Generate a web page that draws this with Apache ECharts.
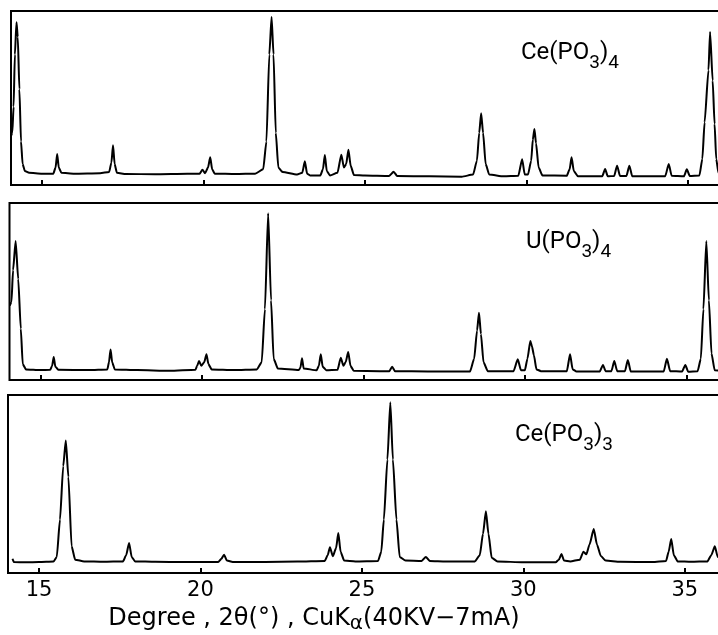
<!DOCTYPE html>
<html>
<head>
<meta charset="utf-8">
<script src="https://cdn.jsdelivr.net/npm/echarts@6/dist/echarts.min.js"></script>
<style>
  html, body { margin: 0; padding: 0; background: #fff; }
  #chart { width: 718px; height: 635px; }
</style>
</head>
<body>
<div id="chart"></div>
<script>
// x ticks (degrees 2-theta)
const xTicks = [15, 20, 25, 30, 35];
const xMin = 14.04;
const xMax = 36.2;

// Panel labels
const panelNames = ['Ce(PO3)4', 'U(PO3)4', 'Ce(PO3)3'];

// Ce(PO3)4 pattern: [2θ, relative intensity]
const ceP4Data = [
  [14.04, 28], [14.08, 30], [14.12, 45], [14.16, 75], [14.21, 93.5], [14.25, 85], [14.30, 55], [14.35, 25], [14.40, 12], [14.47, 8], [14.6, 7],
  [15.0, 6.5], [15.35, 6.5], [15.42, 10], [15.47, 17.8], [15.52, 10], [15.6, 7], [16.0, 6.5], [16.8, 6.8],
  [17.08, 7.5], [17.15, 13], [17.20, 22.8], [17.25, 12], [17.32, 7], [17.6, 6.3], [18.5, 6.2], [19.5, 6.5],
  [19.88, 6.5], [19.97, 8.8], [20.05, 6.8], [20.14, 10], [20.21, 15.9], [20.27, 9], [20.35, 6.5], [21.0, 6.3], [21.6, 6.5],
  [21.85, 9], [21.95, 25], [22.04, 75], [22.11, 96.6], [22.17, 75], [22.24, 30], [22.32, 10], [22.45, 7.5], [22.9, 6],
  [23.06, 7], [23.14, 13.6], [23.21, 6.5], [23.3, 5.5], [23.62, 5.5], [23.70, 9], [23.76, 17.2], [23.82, 8], [23.92, 5.5],
  [24.15, 7], [24.27, 17.4], [24.35, 10], [24.42, 12], [24.49, 20.3], [24.56, 11], [24.66, 5.8], [25.0, 5.5],
  [25.75, 5.2], [25.89, 7.6], [26.0, 5.2], [27.0, 5.0], [28.0, 4.8],
  [28.35, 6], [28.47, 14], [28.54, 30], [28.60, 41.2], [28.66, 30], [28.74, 12], [28.85, 6], [29.3, 5],
  [29.75, 5.3], [29.87, 14.8], [29.95, 6], [30.05, 6], [30.15, 14], [30.20, 26], [30.25, 32.2], [30.30, 24], [30.38, 10], [30.5, 5.5],
  [31.25, 5.3], [31.34, 9], [31.40, 15.9], [31.47, 8], [31.6, 5], [32.35, 5], [32.44, 9.2], [32.52, 5],
  [32.72, 5.2], [32.81, 11.1], [32.9, 5.2], [33.1, 5.2], [33.19, 11.1], [33.28, 5], [34.3, 5], [34.41, 12.1], [34.5, 5.3],
  [34.88, 5], [34.97, 9], [35.06, 5.2], [35.36, 5.5], [35.45, 15], [35.52, 36], [35.64, 66], [35.69, 88], [35.77, 60],
  [35.83, 35], [35.88, 15], [35.95, 7], [36.2, 6]
];

// U(PO3)4 pattern
const uP4Data = [
  [14.05, 42], [14.10, 44], [14.15, 62], [14.23, 78.5], [14.31, 57], [14.39, 29], [14.45, 9], [14.55, 6],
  [15.0, 5.6], [15.3, 5.8], [15.36, 8], [15.41, 13], [15.46, 7.5], [15.55, 5.8], [16.5, 5.6],
  [17.07, 6], [17.12, 10], [17.17, 17.3], [17.22, 10], [17.3, 6], [18.0, 5.6], [19.0, 5.2],
  [19.8, 5.8], [19.85, 8], [19.91, 10.7], [19.98, 8], [20.07, 10], [20.14, 14.5], [20.2, 9], [20.3, 6], [21.0, 5.6],
  [21.7, 6], [21.85, 10], [21.95, 40], [22.05, 94.2], [22.14, 45], [22.22, 12], [22.35, 6.5], [23.0, 5.6],
  [23.05, 7], [23.10, 12.3], [23.15, 6.5], [23.55, 5.5], [23.62, 8], [23.68, 14.5], [23.74, 7.5], [23.85, 5.5],
  [24.2, 5.8], [24.30, 12.6], [24.38, 8], [24.45, 10], [24.53, 15.8], [24.6, 8], [24.7, 5.2], [25.5, 5],
  [25.8, 5], [25.89, 7.5], [25.98, 5], [27.0, 4.8], [28.3, 4.8],
  [28.43, 12], [28.52, 28], [28.58, 38], [28.64, 26], [28.72, 10], [28.85, 5], [29.65, 5],
  [29.78, 11.7], [29.88, 5.5], [30.0, 5.5], [30.08, 12], [30.17, 22], [30.22, 19], [30.28, 14], [30.36, 6], [30.5, 5],
  [31.3, 5], [31.40, 14.5], [31.48, 6], [31.6, 4.8], [32.32, 4.8], [32.42, 8.5], [32.5, 5],
  [32.68, 5], [32.77, 10.7], [32.86, 5], [33.1, 5], [33.19, 11.3], [33.28, 4.8], [34.3, 4.8], [34.40, 12], [34.5, 5],
  [34.87, 4.8], [34.97, 8.5], [35.06, 4.6], [35.35, 5], [35.45, 12], [35.53, 40], [35.62, 78.5], [35.7, 45],
  [35.78, 15], [35.88, 5.5], [36.2, 5]
];

// Ce(PO3)3 pattern
const ceP3Data = [
  [14.18, 8], [14.22, 6.2], [14.6, 6.0], [15.0, 6.2], [15.45, 6.5], [15.55, 9], [15.65, 30], [15.75, 60], [15.83, 74.5],
  [15.91, 54], [16.01, 15], [16.12, 7.5], [16.4, 6.5], [17.0, 6.3], [17.6, 6.5], [17.7, 10], [17.79, 16.9], [17.87, 9],
  [17.98, 6.5], [18.6, 6.3], [19.5, 6.2], [20.55, 6.2], [20.65, 8], [20.73, 10.3], [20.82, 7], [21.0, 6.2], [22.0, 6.2],
  [23.0, 6.4], [23.85, 6.8], [23.94, 10], [24.01, 14.4], [24.1, 9.4], [24.2, 14], [24.27, 22.5], [24.34, 12], [24.45, 7],
  [24.8, 6.5], [25.5, 6.8], [25.6, 12], [25.68, 30], [25.79, 63.7], [25.88, 95.9], [25.96, 63.7], [26.07, 30], [26.17, 9],
  [26.35, 7], [26.85, 6.8], [26.98, 9], [27.1, 6.8], [27.6, 6.5], [28.5, 6.5], [28.65, 10], [28.75, 22], [28.84, 34.7],
  [28.92, 22], [29.02, 8.5], [29.2, 6.5], [30.0, 6], [31.0, 6], [31.1, 7.5], [31.18, 10.7], [31.26, 7], [31.45, 6.5],
  [31.75, 7.5], [31.86, 12], [31.95, 10.5], [32.05, 16], [32.18, 24.7], [32.28, 16], [32.4, 9.5], [32.55, 7], [33.0, 6.3],
  [34.0, 6.2], [34.42, 6.8], [34.5, 12], [34.58, 19.1], [34.66, 10], [34.78, 6.5], [35.2, 6.3], [35.7, 6.5], [35.82, 10],
  [35.93, 15], [36.02, 9], [36.2, 6.5]
];

const seriesData = [ceP4Data, uP4Data, ceP3Data];

const FONT = 'Roboto';
const TICKFONT = 'DejaVu Sans';
const pxPerDeg = 32.29;
const grids = [
  { left: 11, top: 11, height: 174 },
  { left: 9.5, top: 203, height: 177 },
  { left: 8, top: 395, height: 178 }
].map(g => {
  const width = (xMax - xMin) * pxPerDeg;
  return {
    left: g.left, top: g.top, height: g.height, width: width,
    containLabel: false, outerBoundsMode: 'none',
    show: true, borderColor: '#000', borderWidth: 2, backgroundColor: 'transparent'
  };
});

const xAxes = grids.map((g, i) => ({
  type: 'value', gridIndex: i, min: xMin, max: xMax,
  axisLine: { show: false },
  splitLine: { show: false },
  axisTick: { show: true, inside: true, length: 5, customValues: xTicks, lineStyle: { color: '#000', width: 2 } },
  axisLabel: i === 2 ? {
    show: true, customValues: xTicks, color: '#000', fontFamily: TICKFONT, fontSize: 21, margin: 7,
    formatter: v => String(v)
  } : { show: false }
}));

const yAxes = grids.map((g, i) => ({
  type: 'value', gridIndex: i, min: 0, max: 100, show: false
}));

const series = seriesData.map((d, i) => ({
  type: 'line', xAxisIndex: i, yAxisIndex: i, data: d,
  showSymbol: false, smooth: 0.2, smoothMonotone: 'x',
  lineStyle: { color: '#000', width: 2 },
  silent: true, animation: false
}));

const richLabel = {
  m: { fontFamily: FONT, fontSize: 24, color: '#000', lineHeight: 40, verticalAlign: 'middle' },
  s: { fontFamily: FONT, fontSize: 19, color: '#000', lineHeight: 40, verticalAlign: 'bottom' }
};

function formula(name) {
  const m = name.match(/^(.*\(PO)(\d)\)(\d)$/);
  return '{m|' + m[1] + '}{s|' + m[2] + '}{m|)}{s|' + m[3] + '}';
}

const labelPos = [[521, 53], [526, 242], [515, 435]];

const graphic = panelNames.map((n, i) => ({
  type: 'text', x: labelPos[i][0], y: labelPos[i][1],
  style: { text: formula(n), rich: richLabel, align: 'left', verticalAlign: 'middle' }
}));

graphic.push({
  type: 'text', x: 314, y: 619,
  style: {
    text: '{m|Degree , 2θ(°) , CuK}{s|α}{m|(40KV−7mA)}',
    align: 'center', verticalAlign: 'middle',
    rich: {
      m: { fontFamily: TICKFONT, fontSize: 24, color: '#000', lineHeight: 30, verticalAlign: 'middle' },
      s: { fontFamily: TICKFONT, fontSize: 20, color: '#000', lineHeight: 30, verticalAlign: 'bottom' }
    }
  }
});

const chart = echarts.init(document.getElementById('chart'), null, { renderer: 'canvas' });
chart.setOption({
  backgroundColor: '#fff',
  animation: false,
  grid: grids,
  xAxis: xAxes,
  yAxis: yAxes,
  series: series,
  graphic: graphic
});
</script>
</body>
</html>
